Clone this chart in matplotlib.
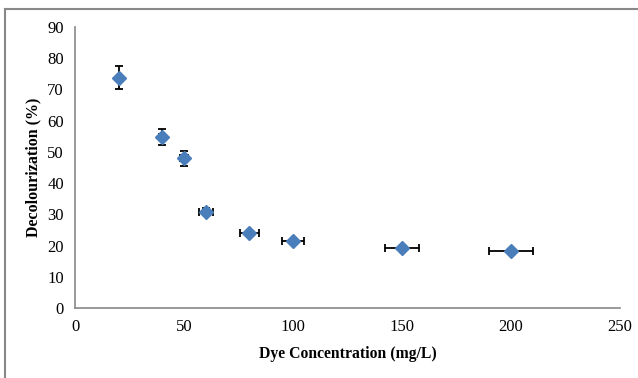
import matplotlib
matplotlib.use("Agg")
import matplotlib.pyplot as plt
from matplotlib.lines import Line2D

# data
conc = [20, 40, 50, 60, 80, 100, 150, 200]
decol = [73.8, 54.8, 48.0, 30.8, 23.9, 21.4, 19.2, 18.1]
yerr = [3.7, 2.6, 2.4, 1.1, 0.8, 0.8, 0.6, 0.5]
xerr = [0.5, 1.5, 2.0, 3.2, 4.2, 5.0, 7.6, 10.0]

plt.rcParams["font.family"] = ["Liberation Serif", "DejaVu Serif"]

fig = plt.figure(figsize=(6.38, 3.78), dpi=100)
ax = fig.add_axes([75/638, 1 - 308/378, 545/638, 281/378])

ax.errorbar(conc, decol, xerr=xerr, yerr=yerr, fmt="D", color="#4a7ebb",
            markersize=7.5, ecolor="black", elinewidth=1.3, capsize=3,
            capthick=1.3, zorder=3)

ax.set_xlim(0, 250)
ax.set_ylim(0, 90)
ax.set_xticks(range(0, 251, 50))
ax.set_yticks(range(0, 91, 10))
ax.tick_params(length=0, labelsize=12, pad=8)
for s in ["top", "right"]:
    ax.spines[s].set_visible(False)
for s in ["left", "bottom"]:
    ax.spines[s].set_color("#888888")
    ax.spines[s].set_linewidth(1.2)

ax.set_xlabel("Dye Concentration (mg/L)", fontsize=11.3, fontweight="bold", labelpad=8)
ax.set_ylabel("Decolourization (%)", fontsize=11.5, fontweight="bold", labelpad=4)

# outer frame of the chart area
fig.add_artist(Line2D([5/638, 1], [1 - 9/378, 1 - 9/378], color="#888888", lw=1.5))
fig.add_artist(Line2D([5/638, 5/638], [0, 1 - 9/378], color="#888888", lw=1.5))

fig.savefig("out.png", dpi=100)
